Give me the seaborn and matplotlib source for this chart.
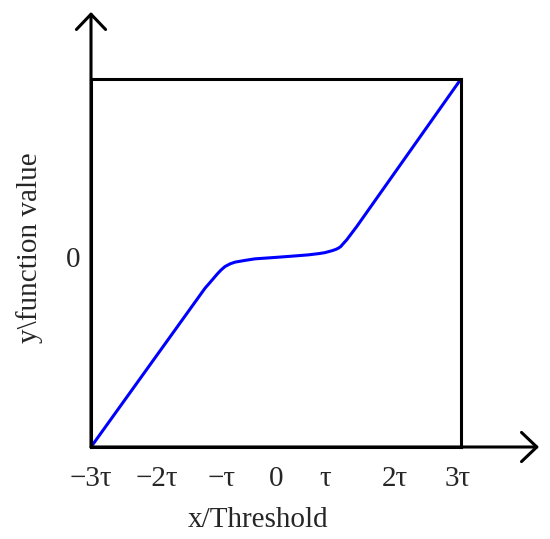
import matplotlib
matplotlib.use("Agg")
import matplotlib.pyplot as plt
import numpy as np
import pandas as pd
import seaborn as sns

# curve (x and y in units of tau)
curve_x = [-3.0, -1.151, -1.07, -1.01, -0.95, -0.89, -0.827, -0.745, -0.665, -0.503, -0.341, 0.0,
           0.26, 0.524, 0.70, 0.795, 0.908, 0.97, 1.011, 1.05, 1.08, 1.146, 1.309, 3.0]
curve_y = [-2.19, -0.356, -0.29, -0.24, -0.19, -0.145, -0.106, -0.075, -0.055, -0.035, -0.017, 0.0,
           0.014, 0.029, 0.044, 0.055, 0.077, 0.092, 0.106, 0.125, 0.15, 0.202, 0.356, 2.061]

x_tick_pos = [-3.0, -1.93, -0.88, 0.0, 0.8, 1.92, 2.95]
x_tick_labels = ["\u22123\u03c4", "\u22122\u03c4", "\u2212\u03c4", "0", "\u03c4", "2\u03c4", "3\u03c4"]
y_tick_pos = [0.0]
y_tick_labels = ["0"]

df = pd.DataFrame({"x": curve_x, "y": curve_y})

sns.set_style("white")
plt.rcParams["font.family"] = ["Liberation Serif", "DejaVu Serif"]

fig = plt.figure(figsize=(5.5, 5.39), dpi=100)
ax = fig.add_axes([91 / 550, (539 - 447) / 539, 370 / 550, 368 / 539])

sns.lineplot(data=df, x="x", y="y", sort=False, color="#0000ff", linewidth=2.2, ax=ax)

ax.set_xlim(-3, 3)
ax.set_ylim(-2.19, 2.06)

for side in ["left", "right", "top", "bottom"]:
    ax.spines[side].set_color("black")
    ax.spines[side].set_linewidth(2.2)

ax.set_xticks(x_tick_pos)
ax.set_xticklabels(x_tick_labels, fontsize=21)
ax.set_yticks(y_tick_pos)
ax.set_yticklabels(y_tick_labels, fontsize=21)
ax.tick_params(axis="x", length=0, pad=14)
ax.tick_params(axis="y", length=0, pad=8)

ax.set_xlabel("x/Threshold", fontsize=21)
ax.set_ylabel(r"y\function value", fontsize=21)
ax.xaxis.set_label_coords(0.451, -0.163)
ax.yaxis.set_label_coords(-0.13, 0.541)

# arrows on the two axes
arrow_style = dict(arrowstyle="->,head_length=1.1,head_width=1.05", color="black",
                   lw=2.2, mutation_scale=10, shrinkA=0, shrinkB=0)
ax.annotate("", xy=(0, (447 - 12) / 368), xytext=(0, 0), xycoords="axes fraction",
            textcoords="axes fraction", arrowprops=arrow_style, annotation_clip=False)
ax.annotate("", xy=((539 - 91) / 370, 0), xytext=(0, 0), xycoords="axes fraction",
            textcoords="axes fraction", arrowprops=arrow_style, annotation_clip=False)

fig.savefig("out.png", dpi=100)
